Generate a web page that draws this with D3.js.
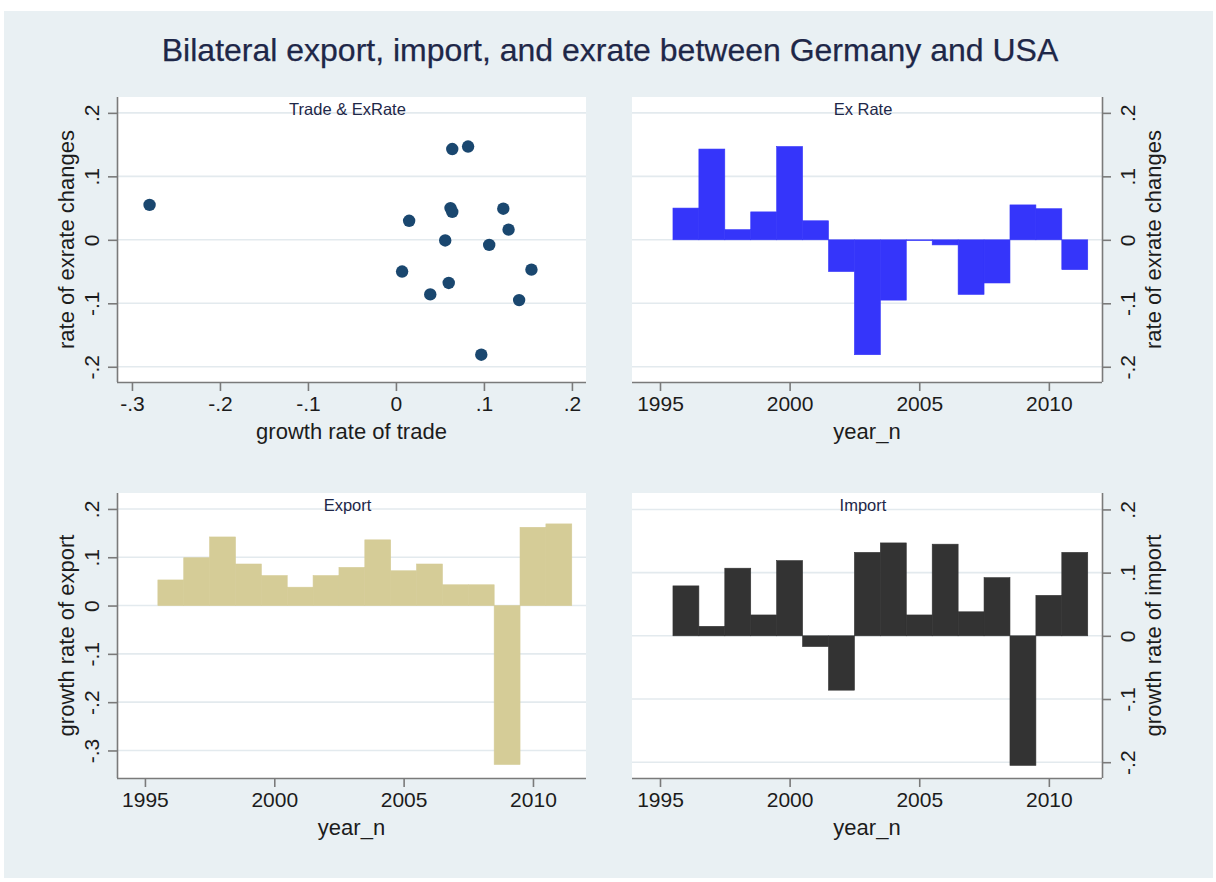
<!DOCTYPE html>
<html>
<head>
<meta charset="utf-8">
<script src="https://cdn.jsdelivr.net/npm/d3@7"></script>
<style>
  html, body { margin: 0; padding: 0; background: #ffffff; }
  svg { display: block; }
  text { font-family: "Liberation Sans", Arial, Helvetica, sans-serif; }
</style>
</head>
<body>
<svg id="chart" width="1216" height="882"></svg>
<script>
// ---------------- data ----------------
const years = [1996, 1997, 1998, 1999, 2000, 2001, 2002, 2003, 2004, 2005, 2006, 2007, 2008, 2009, 2010, 2011];
const exrateChange = [0.050, 0.143, 0.016, 0.044, 0.147, 0.030, -0.050, -0.181, -0.095, -0.001, -0.008, -0.086, -0.068, 0.055, 0.049, -0.047];
const tradeGrowth = [0.062, 0.064, 0.128, 0.064, 0.082, 0.015, 0.007, 0.097, 0.140, 0.056, 0.106, 0.039, 0.060, -0.280, 0.122, 0.154];
const exportGrowth = [0.053, 0.099, 0.142, 0.086, 0.062, 0.038, 0.062, 0.079, 0.136, 0.072, 0.086, 0.043, 0.043, -0.329, 0.162, 0.169];
const importGrowth = [0.079, 0.015, 0.107, 0.033, 0.119, -0.017, -0.086, 0.132, 0.147, 0.033, 0.145, 0.038, 0.092, -0.205, 0.064, 0.132];

const yearTicks = [1995, 2000, 2005, 2010];
const tradeTicks = [-0.3, -0.2, -0.1, 0, 0.1, 0.2];
const rateTicks = [-0.2, -0.1, 0, 0.1, 0.2];
const exportTicks = [-0.3, -0.2, -0.1, 0, 0.1, 0.2];
const importTicks = [-0.2, -0.1, 0, 0.1, 0.2];

const chartTitle = "Bilateral export, import, and exrate between Germany and USA";
const panelTitles = ["Trade & ExRate", "Ex Rate", "Export", "Import"];
const xTitles = ["growth rate of trade", "year_n", "year_n", "year_n"];
const yTitles = ["rate of exrate changes", "rate of exrate changes", "growth rate of export", "growth rate of import"];

// ---------------- styling ----------------
const BG = "#e9f0f3";
const GRID = "#e3eaee";
const AXIS = "#7a7a7a";
const TEXT = "#1c1c1c";
const TITLE = "#1e2748";
const fmt = v => v === 0 ? "0" : String(+v.toFixed(2)).replace("0.", ".");

const svg = d3.select("#chart");
svg.append("rect").attr("x", 4).attr("y", 11).attr("width", 1209).attr("height", 867).attr("fill", BG);

svg.append("text").attr("x", 610).attr("y", 61).attr("text-anchor", "middle")
  .attr("font-size", 32).attr("fill", TITLE).attr("stroke", TITLE).attr("stroke-width", 0.25)
  .text(chartTitle);

function drawPanel(o) {
  const g = svg.append("g");
  const x = d3.scaleLinear().domain(o.xDomain).range([o.left, o.right]);
  const y = d3.scaleLinear().domain(o.yDomain).range([o.bottom, o.top]);

  g.append("rect").attr("x", o.left).attr("y", o.top)
    .attr("width", o.right - o.left).attr("height", o.bottom - o.top).attr("fill", "#ffffff");

  // gridlines
  g.selectAll("line.grid").data(o.yTicks).join("line")
    .attr("x1", o.left).attr("x2", o.right)
    .attr("y1", d => y(d)).attr("y2", d => y(d))
    .attr("stroke", GRID).attr("stroke-width", 1.6);

  // marks
  if (o.type === "scatter") {
    g.selectAll("circle").data(o.xs).join("circle")
      .attr("cx", d => x(d)).attr("cy", (d, i) => y(o.ys[i]))
      .attr("r", 6.2).attr("fill", o.color);
  } else {
    g.selectAll("rect.bar").data(o.ys).join("rect")
      .attr("x", (d, i) => x(o.xs[i] - 0.5))
      .attr("width", (d, i) => x(o.xs[i] + 0.5) - x(o.xs[i] - 0.5))
      .attr("y", d => y(Math.max(0, d)))
      .attr("height", d => Math.max(0.8, Math.abs(y(d) - y(0))))
      .attr("fill", o.color).attr("stroke", o.color).attr("stroke-width", 0.6);
  }

  // x axis
  const xAxis = g.append("g").attr("transform", `translate(0,${o.bottom})`)
    .call(d3.axisBottom(x).tickValues(o.xTicks).tickFormat(o.xFmt).tickSize(9).tickPadding(5));
  xAxis.select(".domain").attr("stroke", AXIS).attr("stroke-width", 1.6)
    .attr("d", `M${o.left},0.5H${o.right}`);
  xAxis.selectAll(".tick line").attr("stroke", AXIS).attr("stroke-width", 1.6);
  xAxis.selectAll(".tick text").attr("font-size", 21).attr("fill", TEXT)
    .attr("font-family", "Liberation Sans, Arial, sans-serif").attr("dy", "0.71em");

  // y axis
  const yAxisGen = o.ySide === "left" ? d3.axisLeft(y) : d3.axisRight(y);
  const axX = o.ySide === "left" ? o.left : o.right;
  const yAxis = g.append("g").attr("transform", `translate(${axX},0)`)
    .call(yAxisGen.tickValues(o.yTicks).tickFormat(fmt).tickSize(9));
  yAxis.select(".domain").attr("stroke", AXIS).attr("stroke-width", 1.6)
    .attr("d", `M0.5,${o.top}V${o.bottom}`);
  yAxis.selectAll(".tick line").attr("stroke", AXIS).attr("stroke-width", 1.6);
  const labX = o.ySide === "left" ? -25 : 26;
  yAxis.selectAll(".tick text").attr("font-size", 21).attr("fill", TEXT)
    .attr("font-family", "Liberation Sans, Arial, sans-serif")
    .attr("x", null).attr("dy", null)
    .attr("text-anchor", "middle")
    .attr("transform", `translate(${labX},0) rotate(-90)`)
    .attr("y", 7);

  // panel title
  g.append("text").attr("x", (o.left + o.right) / 2 - 4).attr("y", o.top + 18)
    .attr("text-anchor", "middle").attr("font-size", 16.5).attr("fill", TITLE).text(o.title);

  // axis titles
  g.append("text").attr("x", (o.left + o.right) / 2).attr("y", o.bottom + 57)
    .attr("text-anchor", "middle").attr("font-size", 22).attr("fill", TEXT).text(o.xTitle);
  const tX = o.ySide === "left" ? o.left - 50 : o.right + 52;
  g.append("text")
    .attr("transform", `translate(${tX},${(o.top + o.bottom) / 2}) rotate(-90)`)
    .attr("y", 7)
    .attr("text-anchor", "middle").attr("font-size", 22).attr("fill", TEXT).text(o.yTitle);
}

const yearDomain = [1993.92, 2012.05];

drawPanel({
  type: "scatter", xs: tradeGrowth, ys: exrateChange, color: "#1a476f",
  left: 117, right: 586, top: 97, bottom: 382,
  xDomain: [-0.317, 0.216], yDomain: [-0.224, 0.225],
  xTicks: tradeTicks, xFmt: fmt, yTicks: rateTicks, ySide: "left",
  title: panelTitles[0], xTitle: xTitles[0], yTitle: yTitles[0]
});
drawPanel({
  type: "bar", xs: years, ys: exrateChange, color: "#3535fa",
  left: 632, right: 1102, top: 97, bottom: 382,
  xDomain: yearDomain, yDomain: [-0.224, 0.225],
  xTicks: yearTicks, xFmt: d3.format("d"), yTicks: rateTicks, ySide: "right",
  title: panelTitles[1], xTitle: xTitles[1], yTitle: yTitles[1]
});
drawPanel({
  type: "bar", xs: years, ys: exportGrowth, color: "#d5cc97",
  left: 117, right: 586, top: 493, bottom: 778,
  xDomain: yearDomain, yDomain: [-0.357, 0.233],
  xTicks: yearTicks, xFmt: d3.format("d"), yTicks: exportTicks, ySide: "left",
  title: panelTitles[2], xTitle: xTitles[2], yTitle: yTitles[2]
});
drawPanel({
  type: "bar", xs: years, ys: importGrowth, color: "#333333",
  left: 632, right: 1102, top: 493, bottom: 778,
  xDomain: yearDomain, yDomain: [-0.225, 0.226],
  xTicks: yearTicks, xFmt: d3.format("d"), yTicks: importTicks, ySide: "right",
  title: panelTitles[3], xTitle: xTitles[3], yTitle: yTitles[3]
});
</script>
</body>
</html>
